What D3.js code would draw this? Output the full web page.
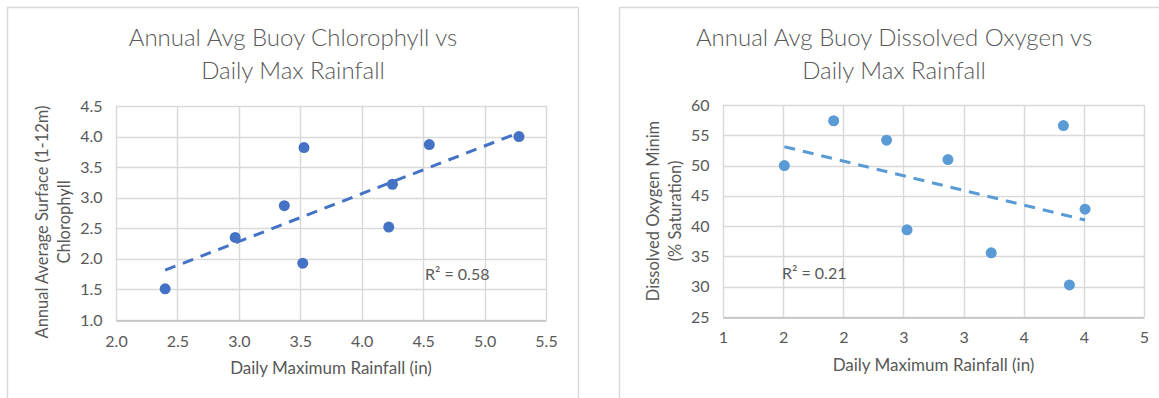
<!DOCTYPE html>
<html>
<head>
<meta charset="utf-8">
<script src="https://cdn.jsdelivr.net/npm/d3@7"></script>
<style>
  body { margin: 0; background: #fff; }
  text { font-family: Lato, "Open Sans", sans-serif; fill: #595959; }
</style>
</head>
<body>
<div id="charts"></div>
<script>
// Chlorophyll vs rainfall (left chart)
var chloroRain   = [2.40, 2.97, 3.37, 3.52, 3.53, 4.22, 4.25, 4.55, 5.28];
var chloroValues = [1.51, 2.35, 2.87, 1.93, 3.82, 2.52, 3.22, 3.87, 4.00];
var chloroXTicks = [2.0, 2.5, 3.0, 3.5, 4.0, 4.5, 5.0, 5.5];
var chloroXLabels = ["2.0", "2.5", "3.0", "3.5", "4.0", "4.5", "5.0", "5.5"];
var chloroYTicks = [1.0, 1.5, 2.0, 2.5, 3.0, 3.5, 4.0, 4.5];
var chloroYLabels = ["1.0", "1.5", "2.0", "2.5", "3.0", "3.5", "4.0", "4.5"];
var chloroTitle = ["Annual Avg Buoy Chlorophyll vs", "Daily Max Rainfall"];
var chloroYTitle = ["Annual Average  Surface (1-12m)", "Chlorophyll"];
var chloroR2 = "R² = 0.58";

// Dissolved oxygen vs rainfall (right chart)
var oxygenRain   = [1.51, 1.92, 2.36, 2.87, 3.83, 4.01, 2.53, 3.23, 3.88];
var oxygenValues = [50.0, 57.4, 54.2, 51.0, 56.6, 42.8, 39.4, 35.6, 30.3];
var oxygenXTicks = [1.0, 1.5, 2.0, 2.5, 3.0, 3.5, 4.0, 4.5];
var oxygenXLabels = ["1", "2", "2", "3", "3", "4", "4", "5"];
var oxygenYTicks = [25, 30, 35, 40, 45, 50, 55, 60];
var oxygenYLabels = ["25", "30", "35", "40", "45", "50", "55", "60"];
var oxygenTitle = ["Annual Avg Buoy Dissolved Oxygen vs", "Daily Max Rainfall"];
var oxygenYTitle = ["Dissolved Oxygen Minim", "(% Saturation)"];
var oxygenR2 = "R² = 0.21";

var xTitle = "Daily Maximum Rainfall (in)";

var svg = d3.select("#charts")
  .append("svg")
  .attr("width", 1159)
  .attr("height", 398);

// least squares fit, same as the Excel linear trendline
function fitLine(xs, ys) {
  var mx = d3.mean(xs), my = d3.mean(ys);
  var sxy = d3.sum(xs, function(d, i) { return (d - mx) * (ys[i] - my); });
  var sxx = d3.sum(xs, function(d) { return (d - mx) * (d - mx); });
  var slope = sxy / sxx;
  return function(x) { return my + slope * (x - mx); };
}

function drawChart(c) {
  var g = svg.append("g");

  // panel frame
  g.append("rect")
    .attr("x", c.panel[0] + 0.5).attr("y", c.panel[1] + 0.5)
    .attr("width", c.panel[2]).attr("height", c.panel[3])
    .attr("fill", "#fff").attr("stroke", "#d9d9d9").attr("stroke-width", 1.5);

  var x = d3.scaleLinear().domain(d3.extent(c.xTicks)).range([c.plot.left, c.plot.right]);
  var y = d3.scaleLinear().domain(d3.extent(c.yTicks)).range([c.plot.bottom, c.plot.top]);

  // title
  g.append("text")
    .attr("x", c.titleX).attr("y", 46)
    .attr("text-anchor", "middle")
    .style("font-size", "24px").style("font-weight", 300)
    .selectAll("tspan").data(c.title).enter().append("tspan")
    .attr("x", c.titleX).attr("dy", function(d, i) { return i ? 33 : 0; })
    .text(function(d) { return d; });

  // gridlines
  g.selectAll(".hgrid").data(c.yTicks).enter().append("line")
    .attr("x1", c.plot.left).attr("x2", c.plot.right)
    .attr("y1", function(d) { return Math.round(y(d)) + 0.5; })
    .attr("y2", function(d) { return Math.round(y(d)) + 0.5; })
    .attr("stroke", "#d9d9d9").attr("stroke-width", 1.5);
  g.selectAll(".vgrid").data(c.xTicks).enter().append("line")
    .attr("y1", c.plot.top).attr("y2", c.plot.bottom)
    .attr("x1", function(d) { return Math.round(x(d)) + 0.5; })
    .attr("x2", function(d) { return Math.round(x(d)) + 0.5; })
    .attr("stroke", "#d9d9d9").attr("stroke-width", 1.5);

  // axes
  var xAxis = g.append("g")
    .attr("transform", "translate(0," + (Math.round(c.plot.bottom) + 0.5) + ")")
    .call(d3.axisBottom(x).tickValues(c.xTicks).tickSize(0).tickPadding(c.xPad)
      .tickFormat(function(d, i) { return c.xLabels[i]; }));
  xAxis.select(".domain").attr("stroke", "#bfbfbf").attr("stroke-width", 1.5);
  var yAxis = g.append("g")
    .attr("transform", "translate(" + (c.plot.left + 0.5) + ",0)")
    .call(d3.axisLeft(y).tickValues(c.yTicks).tickSize(0).tickPadding(c.yPad)
      .tickFormat(function(d, i) { return c.yLabels[i]; }));
  yAxis.select(".domain").remove();
  g.selectAll(".tick text")
    .attr("fill", "#595959")
    .style("font-family", "Lato, 'Open Sans', sans-serif")
    .style("font-size", "16px");

  // axis titles
  g.append("text")
    .attr("x", (c.plot.left + c.plot.right) / 2).attr("y", c.xTitleY)
    .attr("text-anchor", "middle")
    .style("font-size", "17px")
    .text(xTitle);
  g.append("text")
    .attr("transform", "translate(" + c.yTitleX + "," + c.yTitleY + ") rotate(-90)")
    .attr("text-anchor", "middle")
    .style("font-size", "16.5px")
    .selectAll("tspan").data(c.yTitle).enter().append("tspan")
    .attr("x", 0).attr("dy", function(d, i) { return i ? 22 : 0; })
    .text(function(d) { return d; });

  // trendline
  var fit = fitLine(c.xs, c.ys);
  var ends = d3.extent(c.xs);
  g.append("path")
    .datum(ends)
    .attr("d", d3.line().x(function(d) { return x(d); }).y(function(d) { return y(fit(d)); }))
    .attr("stroke", c.color).attr("stroke-width", 3)
    .attr("stroke-dasharray", "11,8")
    .attr("fill", "none");

  // points
  g.selectAll(".pt").data(c.xs).enter().append("circle")
    .attr("cx", function(d) { return x(d); })
    .attr("cy", function(d, i) { return y(c.ys[i]); })
    .attr("r", 5.5)
    .attr("fill", c.color);

  // R squared label
  g.append("text")
    .attr("x", c.r2[0]).attr("y", c.r2[1])
    .style("font-size", "16px")
    .text(c.r2Text);
}

drawChart({
  panel: [7, 7, 571, 400],
  plot: {left: 116, right: 546, top: 106, bottom: 320},
  xs: chloroRain, ys: chloroValues,
  xTicks: chloroXTicks, xLabels: chloroXLabels,
  yTicks: chloroYTicks, yLabels: chloroYLabels,
  title: chloroTitle, titleX: 293,
  yTitle: chloroYTitle, yTitleX: 48, yTitleY: 222,
  xTitleY: 374, xPad: 15, yPad: 14,
  color: "#4472c4",
  r2: [425, 280], r2Text: chloroR2
});

drawChart({
  panel: [619, 7, 560, 400],
  plot: {left: 723, right: 1144, top: 105, bottom: 317},
  xs: oxygenRain, ys: oxygenValues,
  xTicks: oxygenXTicks, xLabels: oxygenXLabels,
  yTicks: oxygenYTicks, yLabels: oxygenYLabels,
  title: oxygenTitle, titleX: 894,
  yTitle: oxygenYTitle, yTitleX: 659, yTitleY: 211,
  xTitleY: 371, xPad: 14, yPad: 14,
  color: "#5b9bd5",
  r2: [782, 279], r2Text: oxygenR2
});
</script>
</body>
</html>
